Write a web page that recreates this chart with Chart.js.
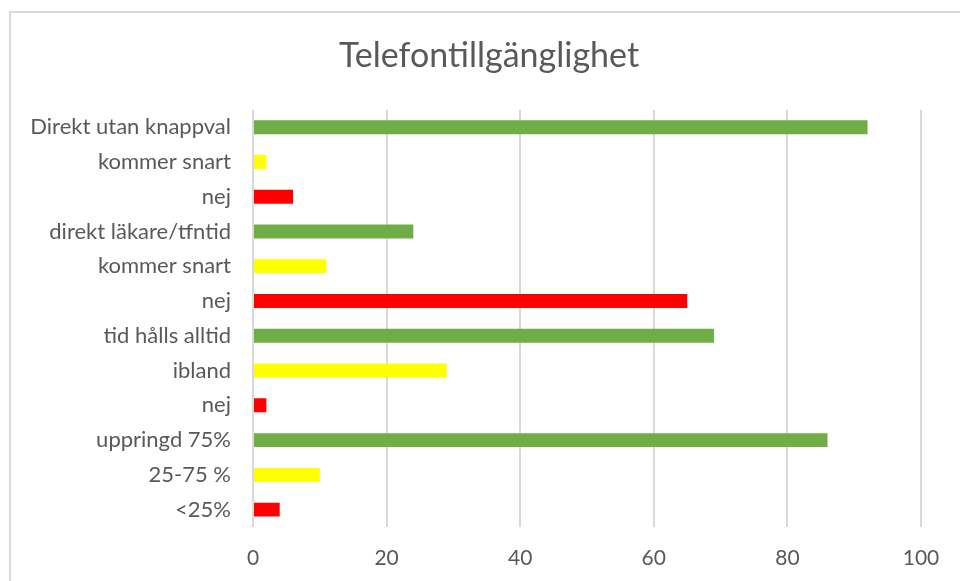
<!DOCTYPE html>
<html>
<head>
<meta charset="utf-8">
<script src="https://cdn.jsdelivr.net/npm/chart.js@4"></script>
<style>
  body { margin: 0; background: #fff; overflow: hidden; }
  #frame { position: absolute; left: 9px; top: 11px; width: 980px; height: 600px;
           border-top: 2px solid #d9d9d9; border-left: 2px solid #d9d9d9; }
  #wrap { position: absolute; left: 9px; top: 11px; width: 960px; height: 570px; }
</style>
</head>
<body>
<div id="frame"></div>
<div id="wrap"><canvas id="telChart" width="960" height="570"></canvas></div>
<script>
// categories top to bottom, as in the picture
const labels = ['Direkt utan knappval', 'kommer snart', 'nej', 'direkt läkare/tfntid',
  'kommer snart', 'nej', 'tid hålls alltid', 'ibland', 'nej', 'uppringd 75%', '25-75 %', '<25%'];
const values = [92, 2, 6, 24, 11, 65, 69, 29, 2, 86, 10, 4];
const barColors = ['#70ad47', '#ffff00', '#ff0000', '#70ad47', '#ffff00', '#ff0000',
  '#70ad47', '#ffff00', '#ff0000', '#70ad47', '#ffff00', '#ff0000'];
const xTicks = [0, 20, 40, 60, 80, 100];

const grey = '#595959';

new Chart(document.getElementById('telChart'), {
  type: 'bar',
  data: {
    labels: labels,
    datasets: [{
      data: values,
      backgroundColor: barColors,
      borderWidth: 0,
      barPercentage: 0.8,
      categoryPercentage: 0.5
    }]
  },
  options: {
    indexAxis: 'y',
    responsive: false,
    animation: false,
    layout: { padding: 0 },
    plugins: {
      legend: { display: false },
      tooltip: { enabled: false },
      title: {
        display: true,
        text: 'Telefontillgänglighet',
        color: grey,
        font: { family: 'Lato', size: 34, weight: 'normal' },
        padding: { top: 25, bottom: 33 }
      }
    },
    scales: {
      x: {
        min: 0,
        max: 100,
        afterBuildTicks: (s) => { s.ticks = xTicks.map(v => ({ value: v })); },
        // keep the title centred on the whole chart, but leave room on the right
        afterFit: (s) => { s.height = 54; s.paddingRight = 48; },
        grid: { color: '#d9d9d9', lineWidth: 2, drawTicks: false },
        border: { display: false },
        ticks: { color: grey, padding: 19, font: { family: 'Lato', size: 21 } }
      },
      y: {
        grid: { display: false, drawTicks: false },
        border: { display: false },
        afterFit: (s) => { s.width = 244; },
        ticks: { color: grey, padding: 22, font: { family: 'Lato', size: 22 } }
      }
    }
  }
});
</script>
</body>
</html>
